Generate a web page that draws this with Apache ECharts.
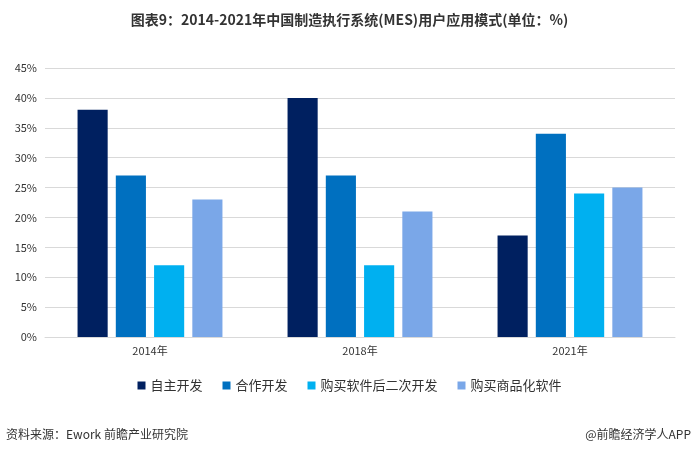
<!DOCTYPE html>
<html><head><meta charset="utf-8">
<script src="https://cdn.jsdelivr.net/npm/echarts@6/dist/echarts.min.js"></script>
<style>html,body{margin:0;padding:0;background:#fff}#c{width:699px;height:455px}</style>
</head><body><div id="c"></div>
<script>
const categories = ['2014年','2018年','2021年'];
const seriesNames = ['自主开发','合作开发','购买软件后二次开发','购买商品化软件'];
const s1 = [38,40,17];
const s2 = [27,27,34];
const s3 = [12,12,24];
const s4 = [23,21,25];
const colors = ['#002060','#0070C0','#00B0F0','#7AA7E8'];
const chart = echarts.init(document.getElementById('c'));
const font = '"Noto Sans CJK SC", sans-serif';
chart.setOption({
  animation:false,
  textStyle:{fontFamily:font},
  title:{text:'图表9：2014-2021年中国制造执行系统(MES)用户应用模式(单位：%)',left:'center',top:8,
    textStyle:{fontSize:14,fontWeight:'bold',color:'#333',fontFamily:font}},
  graphic:[
    {type:'text',left:6,top:428,style:{text:'资料来源：Ework 前瞻产业研究院',fontSize:12,fill:'#333',fontFamily:font}},
    {type:'text',right:8,top:428,style:{text:'@前瞻经济学人APP',fontSize:12,fill:'#333',fontFamily:font}}
  ],
  legend:{bottom:58,itemWidth:8,itemHeight:8,itemGap:20,icon:'rect',textStyle:{fontSize:13,color:'#333'},data:seriesNames},
  grid:{left:45,right:24,top:68,bottom:118},
  xAxis:{type:'category',data:categories,axisTick:{show:false},axisLine:{lineStyle:{color:'#d9d9d9'}},
    axisLabel:{color:'#333',fontSize:11}},
  yAxis:{type:'value',min:0,max:45,interval:5,axisLabel:{formatter:'{value}%',color:'#333',fontSize:11},
    splitLine:{lineStyle:{color:'#d9d9d9'}}},
  series:[s1,s2,s3,s4].map((d,i)=>({name:seriesNames[i],type:'bar',data:d,itemStyle:{color:colors[i]},
    barGap:'27%',barCategoryGap:'31%'}))
});
</script></body></html>
